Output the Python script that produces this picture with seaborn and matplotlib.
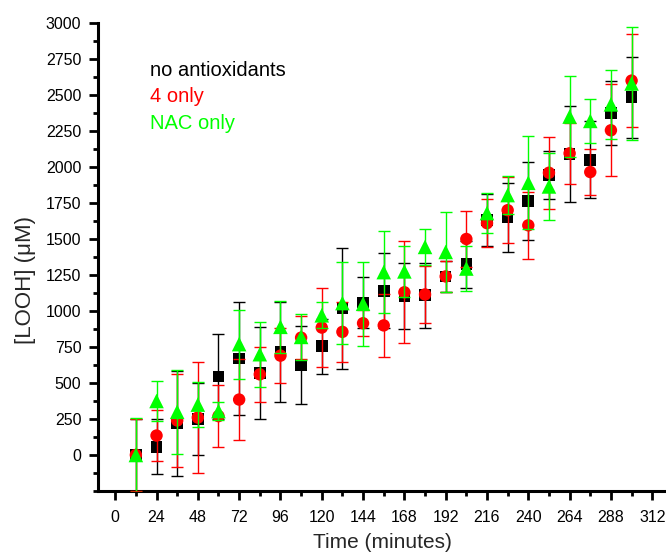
import matplotlib
matplotlib.use("Agg")
import matplotlib.pyplot as plt
import seaborn as sns
import pandas as pd
import numpy as np
from matplotlib.ticker import MultipleLocator

# ---- data ----
times = [12, 24, 36, 48, 60, 72, 84, 96, 108, 120, 132, 144, 156, 168, 180,
         192, 204, 216, 228, 240, 252, 264, 276, 288, 300]

no_antiox = [0, 57, 220, 250, 545, 670, 570, 715, 625, 755, 1020, 1060, 1140, 1105, 1110,
             1240, 1325, 1630, 1650, 1765, 1945, 2090, 2050, 2375, 2485]
no_antiox_err = [250, 190, 365, 250, 295, 390, 318, 345, 270, 190, 420, 175, 260, 228, 225,
                 105, 162, 180, 240, 273, 165, 336, 268, 220, 281]

only4 = [0, 135, 240, 260, 270, 385, 560, 690, 815, 885, 855, 915, 900, 1130, 1115,
         1240, 1500, 1610, 1700, 1595, 1960, 2095, 1965, 2255, 2600]
only4_err = [250, 180, 320, 385, 215, 280, 190, 190, 150, 275, 210, 90, 218, 355, 195,
             110, 197, 165, 230, 233, 250, 210, 160, 318, 324]

nac = [0, 375, 300, 350, 305, 770, 700, 890, 820, 970, 1055, 1050, 1270, 1275, 1445,
       1410, 1295, 1680, 1805, 1890, 1865, 2350, 2320, 2435, 2580]
nac_err = [260, 138, 290, 155, 65, 240, 225, 180, 162, 90, 285, 290, 285, 175, 125,
           277, 158, 137, 130, 324, 235, 283, 154, 240, 395]

series_names = ["no antioxidants", "4 only", "NAC only"]
series_colors = ["#000000", "#FF0000", "#00FF00"]
series_markers = ["s", "o", "^"]
series_msize = [70, 80, 110]

x_ticks = list(range(0, 313, 24))
y_ticks = list(range(0, 3001, 250))

# ---- style ----
sns.set_style("ticks")
plt.rcParams["font.family"] = ["Liberation Sans", "DejaVu Sans"]

fig = plt.figure(figsize=(6.66, 5.59), dpi=100)
ax = fig.add_axes([98 / 666, 1 - 491 / 559, 568 / 666, 468 / 559])

frames = []
for name, vals, errs in [(series_names[0], no_antiox, no_antiox_err),
                         (series_names[1], only4, only4_err),
                         (series_names[2], nac, nac_err)]:
    frames.append(pd.DataFrame({"time": times, "value": vals, "err": errs, "series": name}))
df = pd.concat(frames, ignore_index=True)

z = 3
for name, col, mk, ms in zip(series_names, series_colors, series_markers, series_msize):
    sub = df[df["series"] == name]
    ax.errorbar(sub["time"], sub["value"], yerr=sub["err"], fmt="none",
                ecolor=col, elinewidth=1.0, capsize=4.5, capthick=1.0, zorder=z, clip_on=True)
    sns.scatterplot(data=sub, x="time", y="value", marker=mk, color=col, s=ms,
                    edgecolor="none", linewidth=0, ax=ax, zorder=z + 1, legend=False)
    z += 2

ax.set_xlim(-10, 320)
ax.set_ylim(-250, 3000)
ax.set_xticks(x_ticks)
ax.set_yticks(y_ticks)
ax.xaxis.set_minor_locator(MultipleLocator(12))
ax.yaxis.set_minor_locator(MultipleLocator(125))

for side in ["top", "right"]:
    ax.spines[side].set_visible(False)
for side in ["left", "bottom"]:
    ax.spines[side].set_linewidth(2.2)
    ax.spines[side].set_color("black")

ax.tick_params(axis="x", which="major", pad=7)
ax.tick_params(axis="y", which="major", pad=5.5)
ax.tick_params(which="major", direction="out", length=6.5, width=2.0, labelsize=11.5,
               colors="black")
ax.tick_params(which="minor", direction="out", length=3.3, width=2.0, colors="black")

ax.set_xlabel("Time (minutes)", fontsize=15, labelpad=6)
ax.set_ylabel("[LOOH] (\u03bcM)", fontsize=16)
ax.yaxis.set_label_coords(-0.11, 0.45)

# text-only legend
leg_y = [0.899, 0.842, 0.786]
for name, col, yy in zip(series_names, series_colors, leg_y):
    ax.text(0.0915, yy, name, color=col, fontsize=14.5, transform=ax.transAxes,
            ha="left", va="center")

fig.savefig("out.png", dpi=100)
